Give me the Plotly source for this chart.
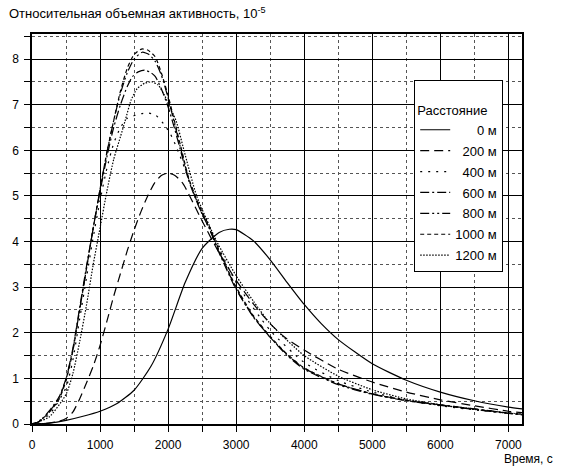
import plotly.graph_objects as go

# ---- data (time in s, relative volumetric activity in 1e-5) ----
t_0m = [0, 250, 500, 750, 1000, 1250, 1500, 1750, 2000, 2250, 2500, 2750, 2900, 3000, 3250, 3500, 3750, 4000, 4250, 4500, 5000, 5500, 6000, 6500, 7000, 7200]
v_0m = [0, 0.02, 0.08, 0.17, 0.28, 0.45, 0.74, 1.27, 2.08, 3.1, 3.85, 4.2, 4.27, 4.26, 4.02, 3.6, 3.1, 2.62, 2.2, 1.85, 1.32, 0.96, 0.7, 0.51, 0.37, 0.33]

t_200m = [0, 250, 400, 500, 600, 700, 800, 900, 1000, 1100, 1200, 1300, 1400, 1500, 1600, 1700, 1800, 1900, 2000, 2100, 2214, 2300, 2400, 2500, 2750, 3000, 3270, 3500, 3714, 4000, 4500, 5000, 5500, 6000, 6500, 7000, 7200]
v_200m = [0, 0.02, 0.06, 0.12, 0.26, 0.55, 0.9, 1.27, 1.72, 2.25, 2.8, 3.3, 3.8, 4.25, 4.65, 5.0, 5.28, 5.45, 5.5, 5.45, 5.28, 5.05, 4.75, 4.45, 3.75, 3.15, 2.6, 2.2, 1.9, 1.62, 1.2, 0.92, 0.7, 0.53, 0.4, 0.28, 0.25]

t_400m = [0, 250, 500, 600, 700, 800, 900, 1000, 1100, 1200, 1300, 1400, 1544, 1677, 1810, 1950, 2036, 2105, 2173, 2240, 2309, 2377, 2500, 2750, 3000, 3500, 4000, 4500, 5000, 5500, 6000, 6500, 7000, 7200]
v_400m = [0, 0.2, 0.8, 1.4, 2.3, 3.2, 4.1, 4.9, 5.6, 6.15, 6.5, 6.7, 6.78, 6.82, 6.78, 6.55, 6.35, 6.13, 5.88, 5.62, 5.33, 5.08, 4.6, 3.85, 3.1, 2.05, 1.35, 0.95, 0.7, 0.52, 0.4, 0.31, 0.24, 0.21]

t_600m = [0, 100, 250, 400, 500, 600, 700, 800, 900, 1000, 1100, 1200, 1300, 1400, 1478, 1560, 1655, 1750, 1810, 1900, 2000, 2100, 2200, 2300, 2400, 2500, 2600, 2750, 3000, 3250, 3500, 3750, 4000, 4500, 5000, 5500, 6000, 6500, 7000, 7200]
v_600m = [0, 0.05, 0.28, 0.6, 1.0, 1.65, 2.55, 3.45, 4.3, 5.1, 5.85, 6.5, 7.0, 7.4, 7.62, 7.72, 7.76, 7.7, 7.62, 7.35, 6.95, 6.45, 5.9, 5.35, 4.95, 4.6, 4.3, 3.75, 2.95, 2.35, 1.9, 1.52, 1.22, 0.88, 0.66, 0.52, 0.42, 0.33, 0.24, 0.21]

t_800m = [0, 100, 250, 400, 500, 600, 700, 800, 900, 1000, 1100, 1200, 1300, 1400, 1500, 1620, 1720, 1810, 1900, 2000, 2100, 2200, 2300, 2400, 2500, 2600, 2750, 3000, 3250, 3500, 3750, 4000, 4500, 5000, 5500, 6000, 6500, 7000, 7200]
v_800m = [0, 0.05, 0.26, 0.58, 0.98, 1.62, 2.5, 3.4, 4.3, 5.15, 5.95, 6.65, 7.25, 7.7, 8.0, 8.15, 8.1, 7.95, 7.65, 7.15, 6.55, 5.95, 5.38, 4.97, 4.62, 4.32, 3.78, 2.97, 2.36, 1.9, 1.5, 1.2, 0.86, 0.65, 0.51, 0.41, 0.32, 0.23, 0.2]

t_1000m = [0, 100, 250, 400, 500, 600, 700, 800, 900, 1000, 1100, 1200, 1300, 1400, 1500, 1610, 1700, 1810, 1900, 2000, 2100, 2200, 2300, 2400, 2500, 2600, 2750, 3000, 3250, 3500, 3750, 4000, 4500, 5000, 5500, 6000, 6500, 7000, 7200]
v_1000m = [0, 0.05, 0.25, 0.55, 0.95, 1.6, 2.5, 3.4, 4.3, 5.15, 5.95, 6.65, 7.3, 7.8, 8.1, 8.22, 8.2, 8.05, 7.7, 7.2, 6.6, 6.0, 5.4, 5.0, 4.65, 4.35, 3.8, 3.0, 2.38, 1.92, 1.53, 1.23, 0.88, 0.66, 0.52, 0.42, 0.33, 0.24, 0.21]

t_1200m = [0, 250, 500, 600, 700, 800, 900, 1000, 1100, 1200, 1300, 1367, 1456, 1544, 1655, 1765, 1854, 1942, 2031, 2119, 2233, 2420, 2715, 3000, 3250, 3500, 4000, 4500, 5000, 5500, 6000, 6500, 7000, 7200]
v_1200m = [0, 0.15, 0.65, 1.1, 1.8, 2.6, 3.5, 4.3, 5.1, 5.8, 6.3, 6.64, 7.1, 7.35, 7.47, 7.5, 7.43, 7.22, 6.93, 6.64, 6.0, 5.0, 4.0, 3.25, 2.7, 2.2, 1.5, 1.05, 0.75, 0.55, 0.42, 0.32, 0.24, 0.22]

legend_labels = ["0 м", "200 м", "400 м", "600 м", "800 м", "1000 м", "1200 м"]
legend_title = "Расстояние"
y_title = "Относительная объемная активность, 10<sup>-5</sup>"
x_title = "Время, с"
x_ticks = [0, 1000, 2000, 3000, 4000, 5000, 6000, 7000]
y_ticks = [0, 1, 2, 3, 4, 5, 6, 7, 8]

series = [
    (t_0m, v_0m), (t_200m, v_200m), (t_400m, v_400m), (t_600m, v_600m),
    (t_800m, v_800m), (t_1000m, v_1000m), (t_1200m, v_1200m),
]
dashes = [
    "solid",
    "9px,5px",
    "2px,6px",
    "9px,3px,2px,3px",
    "9px,3px,2px,3px,2px,3px",
    "4px,3px",
    "1.5px,1.5px",
]

FONT = "Liberation Sans, Arial, sans-serif"

def pad(label):
    # right-align the labels using figure spaces (digit width)
    width = max(len(l) for l in legend_labels)
    return "\u2007" * (width - len(label)) + label

fig = go.Figure()
for i, ((t, v), lab, d) in enumerate(zip(series, legend_labels, dashes)):
    fig.add_trace(go.Scatter(
        x=t, y=v, mode="lines", name=pad(lab), legendgroup=f"g{i}",
        line=dict(color="black", width=1.2, dash=d, shape="spline", smoothing=0.6),
    ))

fig.update_layout(
    width=561, height=473,
    margin=dict(l=30, r=39, t=34, b=49),
    paper_bgcolor="white", plot_bgcolor="white",
    font=dict(family=FONT, size=12, color="black"),
    showlegend=True,
    legend=dict(
        x=0.780, y=0.882, xanchor="left", yanchor="top",
        bgcolor="white", bordercolor="black", borderwidth=1,
        font=dict(family=FONT, size=13, color="black"),
        title=dict(text="<br>" + legend_title, font=dict(family=FONT, size=13)),
        itemwidth=30, tracegroupgap=1,
    ),
    annotations=[
        dict(text=y_title, x=0, y=1, xref="paper", yref="paper",
             xanchor="left", yanchor="middle", xshift=-25, yshift=21,
             showarrow=False, font=dict(family=FONT, size=13)),
        dict(text=x_title, x=1, y=0, xref="paper", yref="paper",
             xanchor="right", yanchor="middle", xshift=33, yshift=-35,
             showarrow=False, font=dict(family=FONT, size=12)),
    ],
)

axis_common = dict(
    showgrid=True, gridcolor="black", gridwidth=1,
    showline=True, linecolor="black", linewidth=1.5, mirror=True,
    ticks="outside", ticklen=6, tickcolor="black", tickwidth=1,
    zeroline=False, ticklabelstandoff=3,
)
fig.update_xaxes(
    range=[0, 7200], tickvals=x_ticks, ticktext=[str(v) for v in x_ticks],
    minor=dict(dtick=500, tick0=0, showgrid=True, gridcolor="#555",
               griddash="dot", gridwidth=1, ticks="outside", ticklen=6,
               tickcolor="black"),
    **axis_common,
)
fig.update_yaxes(
    range=[0, 8.55], tickvals=y_ticks, ticktext=[str(v) for v in y_ticks],
    minor=dict(dtick=0.5, tick0=0, showgrid=True, gridcolor="#555",
               griddash="dot", gridwidth=1, ticks="outside", ticklen=6,
               tickcolor="black"),
    **axis_common,
)

fig.write_html("out.html", config={"displayModeBar": False},
               post_script="document.body.style.margin='0px';")
